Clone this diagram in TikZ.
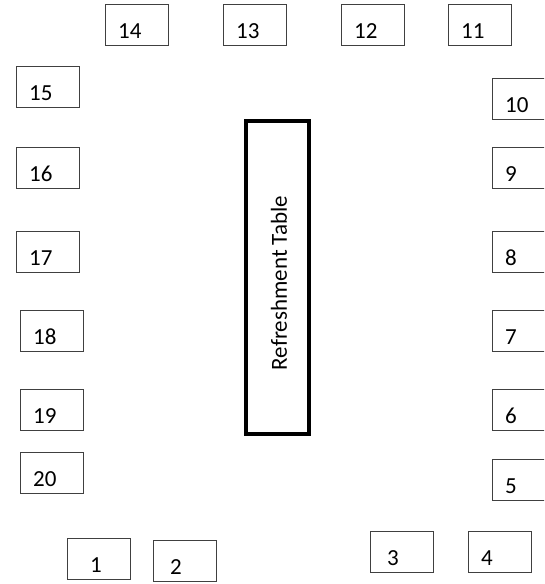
\documentclass[tikz,border=0pt]{standalone}
\usepackage{fontspec}
\setmainfont{Carlito}
\usepackage{tikz}

\begin{document}
\begin{tikzpicture}[x=1pt, y=-1pt,
  seat/.style={draw=black!75, line width=0.9pt},
  num/.style={anchor=base west, inner sep=0pt, font=\fontsize{23}{27}\selectfont}]
  \useasboundingbox (0,0) rectangle (544,584);
  \clip (0,0) rectangle (544,584);
  % top row
  \draw[seat] (105,4) rectangle ++(63,41);
  \node[num] (n14) at (118,38) {14};
  \draw[seat] (223,4) rectangle ++(63,41);
  \node[num] (n13) at (236,38) {13};
  \draw[seat] (341,4) rectangle ++(63,41);
  \node[num] (n12) at (354,38) {12};
  \draw[seat] (448,4) rectangle ++(63,41);
  \node[num] (n11) at (461,38) {11};
  % left column
  \draw[seat] (16,66) rectangle ++(63,41);
  \node[num] (n15) at (29,100) {15};
  \draw[seat] (16,147) rectangle ++(63,41);
  \node[num] (n16) at (29,181) {16};
  \draw[seat] (16,231) rectangle ++(63,41);
  \node[num] (n17) at (29,265) {17};
  \draw[seat] (20,310) rectangle ++(63,41);
  \node[num] (n18) at (33,344) {18};
  \draw[seat] (20,389) rectangle ++(63,41);
  \node[num] (n19) at (33,423) {19};
  \draw[seat] (20,452) rectangle ++(63,41);
  \node[num] (n20) at (33,486) {20};
  % right column
  \draw[seat] (492,78) rectangle ++(63,41);
  \node[num] (n10) at (505,112) {10};
  \draw[seat] (492,147) rectangle ++(63,41);
  \node[num] (n9) at (505,181) {9};
  \draw[seat] (492,231) rectangle ++(63,41);
  \node[num] (n8) at (505,265) {8};
  \draw[seat] (492,310) rectangle ++(63,41);
  \node[num] (n7) at (505,344) {7};
  \draw[seat] (492,389) rectangle ++(63,41);
  \node[num] (n6) at (505,423) {6};
  \draw[seat] (492,459) rectangle ++(63,41);
  \node[num] (n5) at (505,493) {5};
  % bottom row
  \draw[seat] (67,538) rectangle ++(63,41);
  \node[num] (n1) at (90,572) {1};
  \draw[seat] (153,540) rectangle ++(63,41);
  \node[num] (n2) at (170,574) {2};
  \draw[seat] (370,531) rectangle ++(63,41);
  \node[num] (n3) at (387,565) {3};
  \draw[seat] (468,531) rectangle ++(63,41);
  \node[num] (n4) at (481,565) {4};
  % refreshment table
  \draw[line width=4pt] (246,121) rectangle (309,434);
  \node[rotate=90, inner sep=0pt, font=\fontsize{23}{27}\selectfont]
    (tbl) at (279,283) {Refreshment Table};
\end{tikzpicture}
\end{document}
